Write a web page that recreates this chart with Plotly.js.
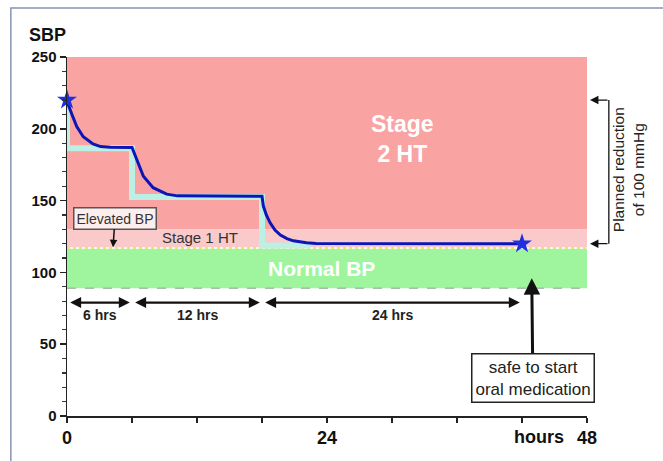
<!DOCTYPE html>
<html>
<head>
<meta charset="utf-8">
<script src="https://cdn.plot.ly/plotly-3.0.1.min.js"></script>
<style>html,body{margin:0;padding:0;background:#fff;}#chart{width:663px;height:461px;}</style>
</head>
<body>
<div id="chart"></div>
<script>
// ---- data ----
const stepHours = [0, 0, 6, 6, 18, 18, 22.5];
const stepSBP   = [220, 186.5, 186.5, 152.5, 152.5, 118.8, 118.8];

const curveHours = [0, 0.15, 0.43, 0.9, 1.5, 2.4, 3.1, 4.0, 6.0, 6.15, 6.45, 7.05, 7.95, 9.2, 10.2, 18.0, 18.13, 18.4, 18.75, 19.2, 19.7, 20.3, 20.9, 22.1, 23.0, 42];
const curveSBP   = [220, 216, 210.5, 201.5, 194.5, 189.5, 187.6, 187.1, 187, 184, 178, 167, 159, 154.5, 153.3, 153, 146, 140, 134.5, 129.5, 126, 123.5, 122, 120.6, 120.2, 120];

const starHours = [0, 42];
const starSBP   = [220, 120];

const zoneNames = ['Stage 2 HT', 'Stage 1 HT', 'Normal BP'];
const zoneLow   = [130, 117.5, 89];
const zoneHigh  = [250, 130, 116.5];
const zoneColors = ['#F9A3A3', '#FAC9C9', '#9EF59E'];
const elevatedLine = 117;
const normalFloor = 89;

const intervalStart  = [0, 6, 18];
const intervalEnd    = [6, 18, 42];
const intervalLabels = ['6 hrs', '12 hrs', '24 hrs'];
const intervalLevel  = 79;

const xTickVals = [0, 24, 48];
const xTickText = ['0', '24', '48'];
const yTickVals = [0, 50, 100, 150, 200, 250];

const plannedFrom = 220, plannedTo = 120;

// ---- chart ----
const FONT = 'Arial, "Liberation Sans", sans-serif';

const traces = [
  {x: stepHours, y: stepSBP, mode: 'lines', line: {color: '#BDF0E4', width: 6}, hoverinfo: 'skip'},
  {x: curveHours, y: curveSBP, mode: 'lines', line: {color: '#0A16B8', width: 3, shape: 'linear'}, hoverinfo: 'skip'},
  {x: starHours, y: starSBP, mode: 'markers', cliponaxis: false,
   marker: {symbol: 'star', size: 15, color: '#1F30E0', line: {width: 0}}, hoverinfo: 'skip'}
];

const shapes = [];
for (let i = 0; i < zoneNames.length; i++) {
  shapes.push({type: 'rect', xref: 'x', yref: 'y', x0: 0, x1: 48, y0: zoneLow[i], y1: zoneHigh[i],
    fillcolor: zoneColors[i], line: {width: 0}, layer: 'below'});
}
shapes.push({type: 'line', xref: 'x', yref: 'y', x0: 0, x1: 48, y0: elevatedLine, y1: elevatedLine,
  line: {color: '#EFE26A', width: 2, dash: 'dot'}, layer: 'below'});
shapes.push({type: 'line', xref: 'x', yref: 'y', x0: 0, x1: 48, y0: normalFloor, y1: normalFloor,
  line: {color: '#8FA08F', width: 1, dash: 'dash'}, layer: 'below'});
// bracket for planned reduction
shapes.push({type: 'line', xref: 'paper', yref: 'paper', x0: 1.042, x1: 1.042,
  y0: plannedFrom / 250, y1: plannedTo / 250, line: {color: '#111', width: 1.3}});
// outer frame
shapes.push({type: 'rect', xref: 'paper', yref: 'paper', x0: -0.108, x1: 1.3, y0: -0.3, y1: 1.1365,
  line: {color: '#8A93B5', width: 1.5}, fillcolor: 'rgba(0,0,0,0)', layer: 'below'});

const annotations = [
  {xref: 'paper', yref: 'paper', x: -0.077, y: 1.062, xanchor: 'left', yanchor: 'middle', showarrow: false,
   text: 'SBP', font: {family: FONT, size: 18, color: '#111', weight: 700}},
  {xref: 'paper', yref: 'paper', x: 0.908, y: -0.0585, xanchor: 'center', yanchor: 'middle', showarrow: false,
   text: 'hours', font: {family: FONT, size: 18, color: '#111', weight: 700}},
  {x: 31, y: 193, showarrow: false, xanchor: 'center', yanchor: 'middle', text: 'Stage<br>2 HT',
   font: {family: FONT, size: 23, color: '#FFFFFF', weight: 700}},
  {x: 12.3, y: 124, showarrow: false, xanchor: 'center', yanchor: 'middle', text: 'Stage 1 HT',
   font: {family: FONT, size: 15, color: '#333'}},
  {x: 23.5, y: 103, showarrow: false, xanchor: 'center', yanchor: 'middle', text: 'Normal BP',
   font: {family: FONT, size: 21, color: '#FFFFFF', weight: 700}},
  {x: 4.25, y: elevatedLine + 0.5, ax: 4.43, ay: 137.5, axref: 'x', ayref: 'y', showarrow: true,
   arrowhead: 2, arrowsize: 1, arrowwidth: 1.5, arrowcolor: '#111', standoff: 0,
   text: 'Elevated BP', font: {family: FONT, size: 14, color: '#333'},
   bgcolor: '#FDEEEE', bordercolor: '#555', borderwidth: 1.5, borderpad: 2},
  {x: 42.9, y: 96, ax: 43, ay: 26.8, axref: 'x', ayref: 'y', showarrow: true,
   arrowhead: 2, arrowsize: 1.1, arrowwidth: 3, arrowcolor: '#111', standoff: 0,
   text: 'safe to start<br>oral medication', font: {family: FONT, size: 17, color: '#222'},
   bgcolor: '#FFFFFF', bordercolor: '#222', borderwidth: 1.5, borderpad: 3},
  {xref: 'paper', yref: 'paper', x: 1.0058, y: plannedFrom / 250, ax: 19, ay: 0, showarrow: true,
   arrowhead: 2, arrowsize: 1.3, arrowwidth: 1.3, arrowcolor: '#111', text: ''},
  {xref: 'paper', yref: 'paper', x: 1.0058, y: plannedTo / 250, ax: 19, ay: 0, showarrow: true,
   arrowhead: 2, arrowsize: 1.3, arrowwidth: 1.3, arrowcolor: '#111', text: ''},
  {xref: 'paper', yref: 'paper', x: 1.079, y: 0.685, xanchor: 'center', yanchor: 'middle',
   showarrow: false, textangle: -90,
   text: 'Planned reduction<br>of 100 mmHg', font: {family: FONT, size: 15.5, color: '#222'}}
];
for (let i = 0; i < intervalStart.length; i++) {
  annotations.push({x: intervalEnd[i] - 0.2, y: intervalLevel, ax: intervalStart[i] + 0.15, ay: intervalLevel,
    axref: 'x', ayref: 'y', showarrow: true, arrowside: 'end+start', arrowhead: 2, arrowsize: 1,
    arrowwidth: 2.2, arrowcolor: '#111', text: '', standoff: 0, startstandoff: 0});
  annotations.push({x: (intervalStart[i] + intervalEnd[i]) / 2, y: 70.3, showarrow: false,
    xanchor: 'center', yanchor: 'middle',
    text: intervalLabels[i], font: {family: FONT, size: 14, color: '#222', weight: 700}});
}

const layout = {
  width: 663, height: 461,
  margin: {l: 67, r: 76, t: 57, b: 45},
  paper_bgcolor: '#FFFFFF', plot_bgcolor: '#FFFFFF',
  showlegend: false,
  font: {family: FONT},
  xaxis: {range: [0, 48], showgrid: false, zeroline: false, showline: true, linecolor: '#222', linewidth: 1.5,
    ticks: 'outside', ticklen: 5, tickwidth: 1.5, tickcolor: '#222',
    tickvals: xTickVals, ticktext: xTickText,
    tickfont: {family: FONT, size: 18, color: '#111', weight: 700},
    minor: {dtick: 6, ticks: 'outside', ticklen: 5, tickwidth: 1.5, tickcolor: '#222', showgrid: false}},
  yaxis: {range: [0, 250], showgrid: false, zeroline: false, showline: true, linecolor: '#222', linewidth: 1.5,
    ticks: 'outside', ticklen: 6, tickwidth: 1.5, tickcolor: '#222',
    tickvals: yTickVals,
    tickfont: {family: FONT, size: 15, color: '#111', weight: 700},
    minor: {dtick: 10, ticks: 'outside', ticklen: 4, tickwidth: 1.2, tickcolor: '#333', showgrid: false}},
  shapes: shapes,
  annotations: annotations
};

Plotly.newPlot('chart', traces, layout, {staticPlot: true, displayModeBar: false});
</script>
</body>
</html>
